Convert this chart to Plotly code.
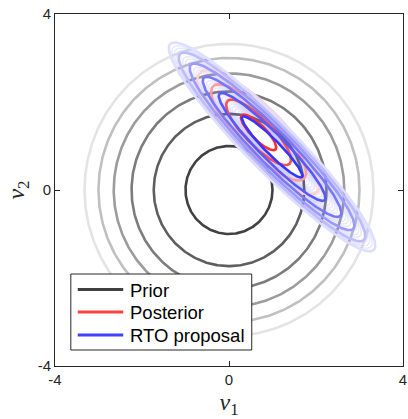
import numpy as np
import plotly.graph_objects as go

# ---------------- data ----------------
prior_center = [0.0, 0.0]
prior_radii = [1.0, 1.73, 2.24, 2.65, 3.0, 3.32]

post_center = [0.68, 1.31]
post_major = [0.55, 1.01, 1.48, 1.91]
post_ratio = 0.30

rto_center = [0.99, 0.98]
rto_major = [0.97, 1.71, 2.22, 2.64, 2.99, 3.31]
rto_ratio = 0.17
rto_faint_major = [1.05, 1.12, 1.2, 1.28, 1.36, 1.44, 1.52, 1.6, 1.66, 1.78, 1.86,
                   1.94, 2.02, 2.1, 2.28, 2.36, 2.44, 2.52, 2.7, 2.78, 2.86,
                   3.05, 3.13, 3.21]

legend_names = ["Prior", "Posterior", "RTO proposal"]

# ---------------- styles ----------------
prior_colors = ["#414141", "#5e5e5e", "#7c7c7c", "#9c9c9c", "#c0c0c0", "#e4e4e4"]
post_colors = ["#ff2f2f", "#ff5050", "#ff9c9c", "#ffd2d2"]
rto_colors = ["#3535ff", "#5858ff", "#7878ff", "#9a9aff", "#bcbcff", "#dedeff"]
legend_colors = ["#404040", "#ff4040", "#4040ff"]

t = np.linspace(0, 2 * np.pi, 400)
u = np.array([-1.0, 1.0]) / np.sqrt(2)
v = np.array([1.0, 1.0]) / np.sqrt(2)


def ellipse(c, a, b):
    x = c[0] + a * np.cos(t) * u[0] + b * np.sin(t) * v[0]
    y = c[1] + a * np.cos(t) * u[1] + b * np.sin(t) * v[1]
    return x, y


fig = go.Figure()

for r, col in zip(prior_radii, prior_colors):
    x = prior_center[0] + r * np.cos(t)
    y = prior_center[1] + r * np.sin(t)
    fig.add_trace(go.Scatter(x=x, y=y, mode="lines", line=dict(color=col, width=2.6),
                             showlegend=False, hoverinfo="skip"))

for a in rto_faint_major:
    x, y = ellipse(rto_center, a, a * rto_ratio)
    fig.add_trace(go.Scatter(x=x, y=y, mode="lines",
                             line=dict(color="rgba(110,110,255,0.15)", width=1.6),
                             showlegend=False, hoverinfo="skip"))

for a, col in zip(post_major, post_colors):
    x, y = ellipse(post_center, a, a * post_ratio)
    fig.add_trace(go.Scatter(x=x, y=y, mode="lines", line=dict(color=col, width=2.6),
                             showlegend=False, hoverinfo="skip"))

for a, col in zip(rto_major, rto_colors):
    x, y = ellipse(rto_center, a, a * rto_ratio)
    fig.add_trace(go.Scatter(x=x, y=y, mode="lines", line=dict(color=col, width=2.6),
                             showlegend=False, hoverinfo="skip"))

# ---------------- legend (box, line samples, labels) ----------------
def px_x(p):
    return (p - 55) / 352.0


def px_y(p):
    return (366 - p) / 352.0


shapes = [dict(type="rect", xref="paper", yref="paper",
               x0=px_x(71), x1=px_x(254), y0=px_y(350), y1=px_y(274),
               line=dict(color="#262626", width=1), fillcolor="white", layer="above")]
annotations = []
row_y = [289.5, 312, 335]
for name, col, ry in zip(legend_names, legend_colors, row_y):
    shapes.append(dict(type="line", xref="paper", yref="paper",
                       x0=px_x(78), x1=px_x(124), y0=px_y(ry), y1=px_y(ry),
                       line=dict(color=col, width=3), layer="above"))
    annotations.append(dict(text=name, xref="paper", yref="paper",
                            x=px_x(129), y=px_y(ry + 0.5), xanchor="left", yanchor="middle",
                            showarrow=False,
                            font=dict(family="Liberation Sans, Arial", size=18.5, color="black")))

axis_common = dict(range=[-4, 4], tickvals=[-4, 0, 4], ticktext=["-4", "0", "4"],
                   ticks="inside", ticklen=5, tickcolor="#262626",
                   showline=True, linecolor="#262626", linewidth=1, mirror="allticks",
                   showgrid=False, zeroline=False, ticklabeloverflow="allow",
                   tickfont=dict(family="Liberation Sans, Arial", size=15, color="#262626"))

fig.update_layout(
    width=408, height=419,
    margin=dict(l=55, r=1, t=14, b=53),
    paper_bgcolor="white", plot_bgcolor="white",
    xaxis=dict(**axis_common,
               title=dict(text="<i>v</i><sub>1</sub>", standoff=8,
                          font=dict(family="Liberation Serif", size=24, color="#262626"))),
    yaxis=dict(**axis_common,
               title=dict(text="<i>v</i><sub>2</sub>", standoff=6,
                          font=dict(family="Liberation Serif", size=24, color="#262626"))),
    shapes=shapes,
    annotations=annotations,
    showlegend=False,
)

fig.write_html("out.html")
